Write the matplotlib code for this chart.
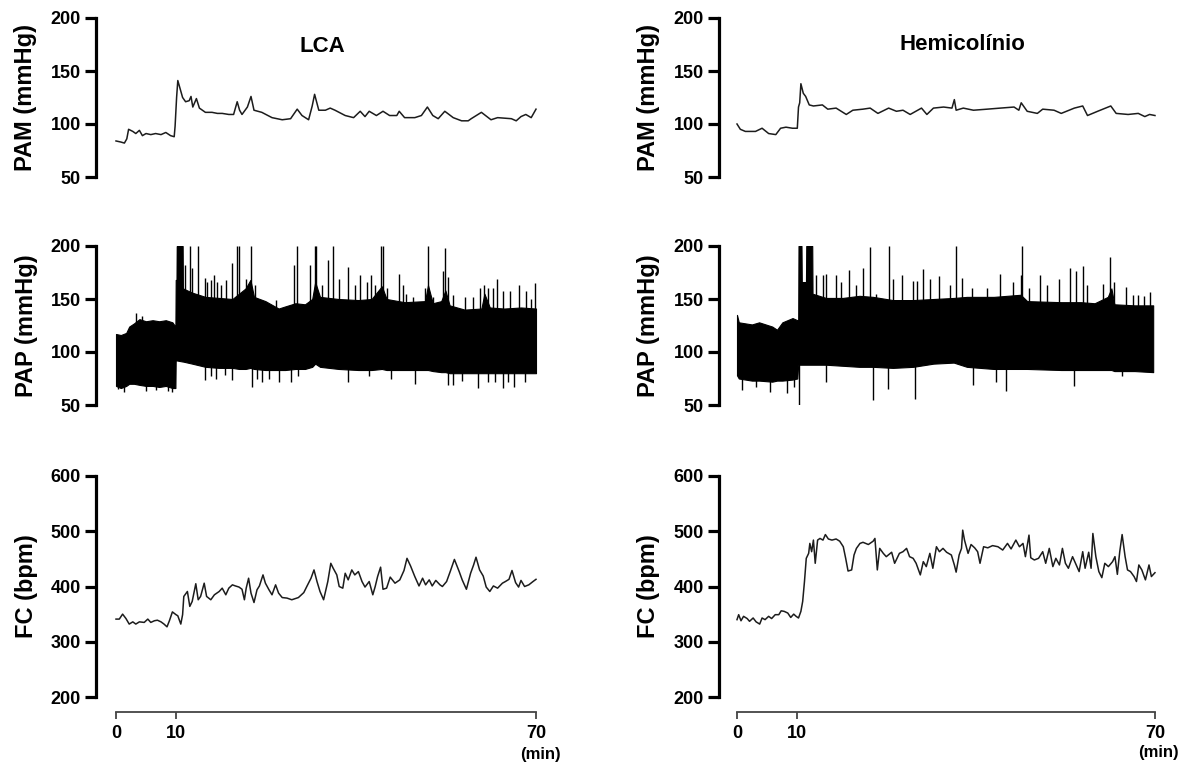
import matplotlib
matplotlib.use("Agg")
import matplotlib.pyplot as plt
import numpy as np

# ---------------- data ----------------
# LCA column
lca_pam_t = [0.0, 0.8, 1.4, 1.8, 2.1, 2.8, 3.3, 3.9, 4.4, 5.0,
             5.8, 6.6, 7.5, 8.3, 9.1, 9.7, 9.85, 10.1, 10.3, 10.6,
             11.1, 11.6, 12.2, 12.5, 12.8, 13.4, 13.9, 14.9, 16.0, 16.9,
             17.7, 18.8, 19.6, 20.2, 20.6, 21.0, 21.9, 22.5, 23.0, 24.3,
             26.0, 27.7, 29.1, 30.2, 31.0, 32.1, 32.7, 33.1, 33.8, 34.9,
             35.7, 36.5, 38.2, 39.6, 40.7, 41.5, 42.2, 43.4, 44.5, 45.6,
             46.8, 47.2, 48.1, 49.8, 50.9, 51.9, 52.8, 53.7, 54.8, 56.2,
             57.6, 58.7, 59.2, 60.9, 62.5, 63.6, 65.9, 66.7, 67.5, 68.3,
             69.2, 70.0]
lca_pam_v = [84, 83, 82, 86, 95, 93, 91, 94, 89, 91,
             90, 91, 90, 92, 89, 88, 98, 125, 141, 135,
             125, 121, 122, 126, 116, 124, 115, 111, 111, 110,
             110, 109, 109, 121, 113, 109, 116, 126, 113, 111,
             106, 104, 105, 114, 108, 104, 117, 128, 113, 113,
             115, 113, 108, 106, 112, 107, 112, 108, 112, 108,
             108, 112, 106, 106, 108, 116, 108, 105, 112, 106,
             103, 103, 105, 111, 104, 106, 105, 103, 107, 109,
             106, 114]

lca_pap_t = [0.0, 0.8, 1.7, 2.2, 3.0, 3.9, 5.0, 6.1, 7.2, 8.3,
             9.4, 9.9, 9.95, 10.1, 10.15, 11.1, 11.15, 12.7, 14.9, 17.2,
             19.4, 20.5, 21.6, 22.4, 23.0, 24.9, 27.1, 28.2, 29.9, 31.5,
             32.7, 33.2, 34.0, 37.1, 40.4, 42.6, 44.3, 45.1, 48.1, 51.5,
             52.0, 52.8, 54.2, 54.9, 55.6, 58.1, 60.9, 61.4, 62.3, 64.7,
             67.5, 70.0]
lca_pap_hi = [117, 116, 118, 124, 127, 131, 129, 130, 129, 130,
              128, 124, 168, 168, 200, 200, 160, 156, 152, 151,
              150, 155, 160, 168, 152, 148, 141, 143, 146, 145,
              150, 166, 152, 150, 149, 150, 162, 150, 147, 148,
              163, 146, 148, 158, 144, 140, 141, 155, 142, 141,
              142, 141]
lca_pap_lo = [68, 66, 68, 70, 70, 69, 68, 68, 67, 68,
              66, 66, 92, 92, 92, 91, 91, 89, 86, 85,
              85, 84, 84, 85, 84, 83, 83, 83, 84, 84,
              86, 89, 86, 84, 83, 83, 84, 83, 83, 83,
              83, 82, 81, 81, 80, 80, 80, 80, 80, 80,
              80, 80]
lca_spike_up_t = [3.4, 4.3, 10.2, 10.6, 11.0, 11.5, 12.3, 12.7, 13.6, 14.8,
                  15.2, 15.8, 16.3, 16.9, 17.5, 18.3, 19.4, 20.1, 20.5, 21.6,
                  22.5, 23.2, 26.6, 29.6, 30.2, 32.4, 33.1, 33.4, 34.3, 35.3,
                  36.2, 37.1, 38.6, 39.8, 40.7, 41.9, 42.5, 43.2, 44.2, 44.5,
                  45.1, 47.2, 47.9, 48.4, 49.5, 51.5, 52.0, 52.8, 54.5, 54.9,
                  55.3, 56.2, 58.1, 59.5, 60.6, 61.3, 62.0, 62.8, 63.5, 64.5,
                  65.6, 67.2, 68.3, 69.2, 69.9]
lca_spike_up_v = [137, 134, 200, 200, 200, 182, 200, 179, 200, 170,
                  166, 168, 173, 166, 163, 168, 184, 200, 200, 169,
                  200, 163, 149, 182, 200, 182, 200, 200, 163, 187,
                  200, 169, 180, 163, 173, 166, 173, 163, 200, 200,
                  160, 174, 163, 155, 152, 160, 200, 152, 176, 198,
                  171, 154, 152, 152, 160, 163, 160, 160, 169, 158,
                  158, 163, 158, 150, 165]
lca_spike_dn_t = [0.3, 1.4, 5.0, 6.6, 8.6, 9.4, 14.8, 15.9, 16.6, 18.2,
                  19.4, 22.7, 23.5, 24.3, 25.5, 27.1, 29.1, 30.4, 38.7, 42.1,
                  45.9, 49.8, 55.3, 56.2, 57.6, 60.3, 62.0, 63.1, 64.5, 65.3,
                  66.4, 68.1]
lca_spike_dn_v = [65, 62, 63, 64, 63, 62, 74, 77, 75, 78,
                  74, 67, 75, 72, 75, 72, 72, 77, 72, 77,
                  75, 70, 69, 69, 73, 66, 72, 72, 66, 72,
                  67, 72]

lca_fc_t = [0.0, 0.55, 1.1, 1.66, 2.2, 2.8, 3.3, 3.9, 4.7, 5.3,
            5.8, 6.4, 6.9, 7.5, 8.0, 8.5, 8.9, 9.4, 10.0, 10.3,
            10.8, 11.1, 11.3, 11.9, 12.3, 12.7, 13.3, 13.7, 14.1, 14.7,
            15.1, 15.8, 16.4, 17.2, 17.7, 18.3, 18.8, 19.4, 19.9, 20.5,
            21.0, 21.4, 21.7, 22.1, 22.5, 23.0, 23.5, 23.9, 24.5, 24.9,
            25.5, 26.0, 26.6, 27.1, 27.7, 28.5, 29.3, 30.4, 31.3, 31.8,
            32.5, 33.0, 33.5, 34.0, 34.6, 35.3, 35.8, 36.2, 36.8, 37.2,
            37.8, 38.2, 38.7, 39.3, 39.8, 40.4, 41.0, 41.5, 42.2, 42.8,
            43.2, 43.6, 44.1, 44.5, 45.1, 45.7, 46.5, 47.3, 48.0, 48.5,
            49.1, 49.8, 50.5, 51.1, 51.6, 52.2, 52.7, 53.3, 54.0, 54.4,
            55.1, 55.7, 56.4, 57.2, 57.7, 58.4, 59.1, 59.6, 60.0, 60.6,
            61.2, 61.7, 62.3, 62.9, 63.6, 64.4, 64.9, 65.5, 66.0, 66.6,
            67.1, 67.5, 68.1, 68.8, 69.5, 70.0]
lca_fc_v = [341, 341, 350, 342, 332, 336, 332, 336, 335, 341,
            335, 338, 339, 336, 332, 327, 338, 354, 349, 347,
            332, 349, 382, 391, 364, 373, 405, 376, 382, 406,
            382, 376, 385, 391, 397, 385, 397, 403, 401, 399,
            395, 376, 397, 415, 388, 371, 394, 401, 421, 406,
            394, 385, 403, 388, 380, 379, 376, 380, 389, 400,
            415, 430, 409, 391, 376, 409, 442, 433, 421, 400,
            397, 424, 412, 430, 421, 427, 409, 399, 409, 385,
            400, 418, 435, 395, 397, 417, 406, 412, 429, 451,
            437, 418, 401, 415, 403, 412, 401, 411, 403, 400,
            409, 427, 449, 427, 412, 395, 424, 439, 453, 430,
            419, 399, 391, 401, 397, 406, 409, 413, 429, 407,
            399, 411, 400, 403, 409, 413]

# Hemicolínio column
hc_pam_t = [0.0, 0.56, 1.4, 3.1, 4.2, 5.3, 6.5, 7.3, 8.2, 9.3,
            10.1, 10.3, 10.5, 10.7, 11.1, 11.5, 12.1, 12.8, 14.3, 15.2,
            16.6, 18.3, 19.4, 21.1, 22.3, 23.6, 25.4, 26.7, 27.8, 29.0,
            30.9, 31.8, 32.9, 34.6, 36.0, 36.4, 36.7, 37.9, 39.6, 41.9,
            44.1, 46.4, 47.2, 47.6, 48.6, 50.3, 51.2, 53.1, 54.3, 56.5,
            57.9, 58.7, 60.4, 62.6, 63.5, 65.5, 67.2, 68.3, 69.1, 70.0]
hc_pam_v = [100, 95, 93, 93, 96, 91, 90, 96, 97, 96,
            96, 116, 120, 138, 129, 126, 118, 117, 118, 114,
            115, 109, 113, 114, 115, 110, 115, 112, 113, 109,
            115, 109, 115, 116, 115, 123, 113, 115, 113, 114,
            115, 116, 113, 120, 112, 110, 114, 113, 110, 115,
            117, 108, 112, 117, 110, 109, 110, 107, 109, 108]

hc_pap_t = [0.0, 0.3, 2.5, 3.7, 5.9, 6.7, 7.6, 9.3, 10.1, 10.25,
            10.3, 10.8, 10.85, 11.55, 11.6, 12.6, 12.65, 14.9, 17.7, 20.5,
            22.8, 26.1, 29.5, 32.9, 36.3, 38.5, 43.0, 47.5, 48.6, 54.3,
            57.6, 59.9, 62.1, 62.7, 63.2, 66.6, 69.7]
hc_pap_hi = [135, 128, 126, 128, 124, 121, 128, 132, 130, 130,
             200, 200, 166, 166, 200, 200, 155, 151, 151, 153,
             152, 149, 149, 150, 151, 152, 152, 154, 148, 147,
             147, 146, 152, 160, 145, 144, 144]
hc_pap_lo = [78, 75, 73, 73, 72, 73, 73, 74, 75, 88,
             88, 88, 88, 88, 88, 88, 88, 88, 87, 86,
             86, 85, 86, 89, 90, 86, 84, 84, 84, 83,
             83, 83, 83, 83, 82, 82, 81]
hc_spike_up_t = [13.2, 14.4, 14.9, 16.6, 17.4, 18.7, 20.0, 21.1, 22.3, 23.3,
                 25.4, 26.1, 27.7, 29.5, 30.2, 31.1, 32.4, 33.9, 35.6, 36.7,
                 37.7, 39.4, 41.9, 44.0, 46.3, 47.5, 47.8, 48.9, 50.7, 52.0,
                 54.0, 55.7, 56.8, 57.9, 58.7, 61.3, 62.4, 63.2, 65.2, 66.3,
                 67.2, 68.2, 69.1]
hc_spike_up_v = [173, 173, 174, 173, 166, 177, 163, 179, 199, 155,
                 200, 169, 173, 167, 167, 178, 169, 172, 163, 200,
                 170, 160, 160, 174, 166, 173, 200, 160, 173, 163,
                 169, 179, 176, 181, 163, 164, 190, 166, 161, 154,
                 154, 153, 157]
hc_spike_dn_t = [0.8, 3.1, 5.6, 8.4, 9.6, 10.4, 14.9, 22.8, 25.3, 29.8,
                 39.6, 43.3, 45.1, 56.5, 64.4]
hc_spike_dn_v = [64, 67, 62, 61, 67, 45, 72, 55, 65, 56,
                 69, 72, 63, 68, 77]

hc_fc_t = [0.0, 0.28, 0.67, 1.1, 1.7, 2.1, 2.7, 3.2, 3.8, 4.2,
           4.7, 5.3, 5.8, 6.4, 7.0, 7.4, 7.9, 8.5, 9.0, 9.5,
           9.9, 10.3, 10.7, 11.0, 11.3, 11.6, 12.0, 12.2, 12.5, 12.8,
           13.1, 13.5, 13.9, 14.4, 14.8, 15.3, 15.9, 16.6, 17.2, 17.8,
           18.2, 18.6, 19.2, 19.6, 20.0, 20.6, 21.1, 22.0, 22.8, 23.1,
           23.5, 23.9, 24.5, 25.0, 25.9, 26.4, 27.2, 27.8, 28.4, 28.9,
           29.5, 30.0, 30.7, 31.2, 31.7, 32.3, 32.8, 33.4, 33.9, 34.5,
           35.1, 35.9, 36.4, 36.7, 37.2, 37.6, 37.8, 38.1, 38.7, 39.2,
           39.8, 40.3, 40.7, 41.3, 42.0, 42.8, 43.7, 44.5, 45.3, 45.9,
           46.7, 47.3, 47.9, 48.3, 48.9, 49.2, 49.8, 50.5, 51.2, 51.7,
           52.3, 52.9, 53.4, 54.0, 54.5, 55.0, 55.5, 56.2, 56.8, 57.3,
           57.9, 58.3, 58.9, 59.3, 59.6, 60.1, 60.6, 61.1, 61.6, 62.2,
           62.9, 63.3, 63.7, 64.1, 64.5, 65.0, 65.4, 65.9, 66.5, 66.9,
           67.3, 67.8, 68.4, 69.0, 69.4, 70.0]
hc_fc_v = [340, 349, 338, 346, 342, 337, 343, 336, 332, 343,
           340, 346, 342, 349, 349, 356, 355, 352, 344, 350,
           346, 343, 355, 373, 409, 451, 460, 478, 463, 484,
           442, 484, 487, 484, 494, 486, 484, 486, 482, 472,
           451, 428, 430, 457, 469, 478, 480, 476, 482, 487,
           430, 469, 460, 454, 462, 442, 460, 463, 469, 454,
           451, 442, 421, 445, 436, 460, 433, 472, 463, 469,
           462, 457, 439, 426, 457, 469, 502, 484, 460, 476,
           470, 463, 442, 472, 470, 474, 472, 466, 478, 468,
           484, 472, 478, 454, 493, 452, 448, 451, 463, 442,
           469, 436, 451, 439, 469, 442, 433, 454, 439, 427,
           463, 433, 462, 433, 496, 454, 427, 416, 442, 436,
           445, 454, 422, 463, 494, 454, 430, 427, 418, 409,
           439, 430, 412, 439, 418, 425]

x_ticks = [0, 10, 70]
x_ticklabels = ["0", "10", "70"]
pam_ticks = [50, 100, 150, 200]
pap_ticks = [50, 100, 150, 200]
fc_ticks = [200, 300, 400, 500, 600]
titles = ["LCA", "Hemicolínio"]
ylabels = ["PAM (mmHg)", "PAP (mmHg)", "FC (bpm)"]

# ---------------- figure ----------------
plt.rcParams["font.family"] = ["Liberation Sans", "DejaVu Sans"]
plt.rcParams["font.weight"] = "bold"
W, H = 1194, 767
fig = plt.figure(figsize=(W / 100, H / 100), dpi=100)

LINE = "#1c1c1c"


def panel(xl, xr, yt, yb, xlim, ylim, ticks):
    ax = fig.add_axes([xl / W, 1 - yb / H, (xr - xl) / W, (yb - yt) / H])
    ax.set_xlim(*xlim)
    ax.set_ylim(*ylim)
    for s in ("top", "right", "bottom"):
        ax.spines[s].set_visible(False)
    ax.spines["left"].set_linewidth(2.3)
    ax.set_xticks([])
    ax.set_yticks(ticks)
    ax.set_yticklabels([str(t) for t in ticks])
    ax.tick_params(axis="y", length=8, width=2.3, labelsize=13, pad=3)
    for lab in ax.get_yticklabels():
        lab.set_fontweight("bold")
    ax.patch.set_alpha(0)
    return ax


def xaxis(xl, xr, y, xlim):
    ax = fig.add_axes([xl / W, 1 - y / H, (xr - xl) / W, 0.0001])
    ax.set_xlim(*xlim)
    for s in ("top", "right", "left"):
        ax.spines[s].set_visible(False)
    ax.spines["bottom"].set_bounds(0, 70)
    ax.spines["bottom"].set_linewidth(1.3)
    ax.spines["bottom"].set_color("#444444")
    ax.set_yticks([])
    ax.set_xticks(x_ticks)
    ax.set_xticklabels(x_ticklabels)
    ax.tick_params(axis="x", length=5, width=1.3, color="#444444",
                   labelsize=13, pad=4)
    for lab in ax.get_xticklabels():
        lab.set_fontweight("bold")
    ax.patch.set_alpha(0)
    return ax


columns = [
    dict(spine=96, x0=116, ppm=6.0, right=548, ytx=26, title_xy=(322, 47),
         pam=(lca_pam_t, lca_pam_v),
         pap=(lca_pap_t, lca_pap_lo, lca_pap_hi, lca_spike_up_t, lca_spike_up_v,
              lca_spike_dn_t, lca_spike_dn_v),
         fc=(lca_fc_t, lca_fc_v), min_xy=(540, 754)),
    dict(spine=719, x0=737, ppm=5.971, right=1168, ytx=649, title_xy=(962, 45),
         pam=(hc_pam_t, hc_pam_v),
         pap=(hc_pap_t, hc_pap_lo, hc_pap_hi, hc_spike_up_t, hc_spike_up_v,
              hc_spike_dn_t, hc_spike_dn_v),
         fc=(hc_fc_t, hc_fc_v), min_xy=(1158, 753)),
]

rows = [(18, 177, (50, 200), pam_ticks),
        (246, 405, (50, 200), pap_ticks),
        (476, 697, (200, 600), fc_ticks)]

for ci, c in enumerate(columns):
    xlim = (-(c["x0"] - c["spine"]) / c["ppm"], (c["right"] - c["x0"]) / c["ppm"])
    # PAM
    yt, yb, yl, tk = rows[0]
    ax = panel(c["spine"], c["right"], yt, yb, xlim, yl, tk)
    ax.plot(c["pam"][0], c["pam"][1], color=LINE, lw=1.1)
    # PAP
    yt, yb, yl, tk = rows[1]
    ax = panel(c["spine"], c["right"], yt, yb, xlim, yl, tk)
    pt, plo, phi, sut, suv, sdt, sdv = c["pap"]
    ax.fill_between(pt, plo, phi, color="black", lw=0.8, edgecolor="black")
    ax.vlines(sut, 100, suv, color="black", lw=1.0)
    ax.vlines(sdt, sdv, 100, color="black", lw=1.0)
    # FC
    yt, yb, yl, tk = rows[2]
    ax = panel(c["spine"], c["right"], yt, yb, xlim, yl, tk)
    ax.plot(c["fc"][0], c["fc"][1], color=LINE, lw=1.1)
    # time axis
    xaxis(c["spine"], c["right"], 712, xlim)
    fig.text(c["min_xy"][0] / W, 1 - c["min_xy"][1] / H, "(min)",
             ha="center", va="center", fontsize=12, fontweight="bold")
    # labels
    for (yt, yb, _, _), lab in zip(rows, ylabels):
        fig.text(c["ytx"] / W, 1 - (yt + yb) / 2 / H, lab, rotation=90,
                 ha="center", va="center", fontsize=17, fontweight="bold")
    fig.text(c["title_xy"][0] / W, 1 - c["title_xy"][1] / H, titles[ci],
             ha="center", va="center", fontsize=16, fontweight="bold")

fig.savefig("out.png", dpi=100, facecolor="white")
